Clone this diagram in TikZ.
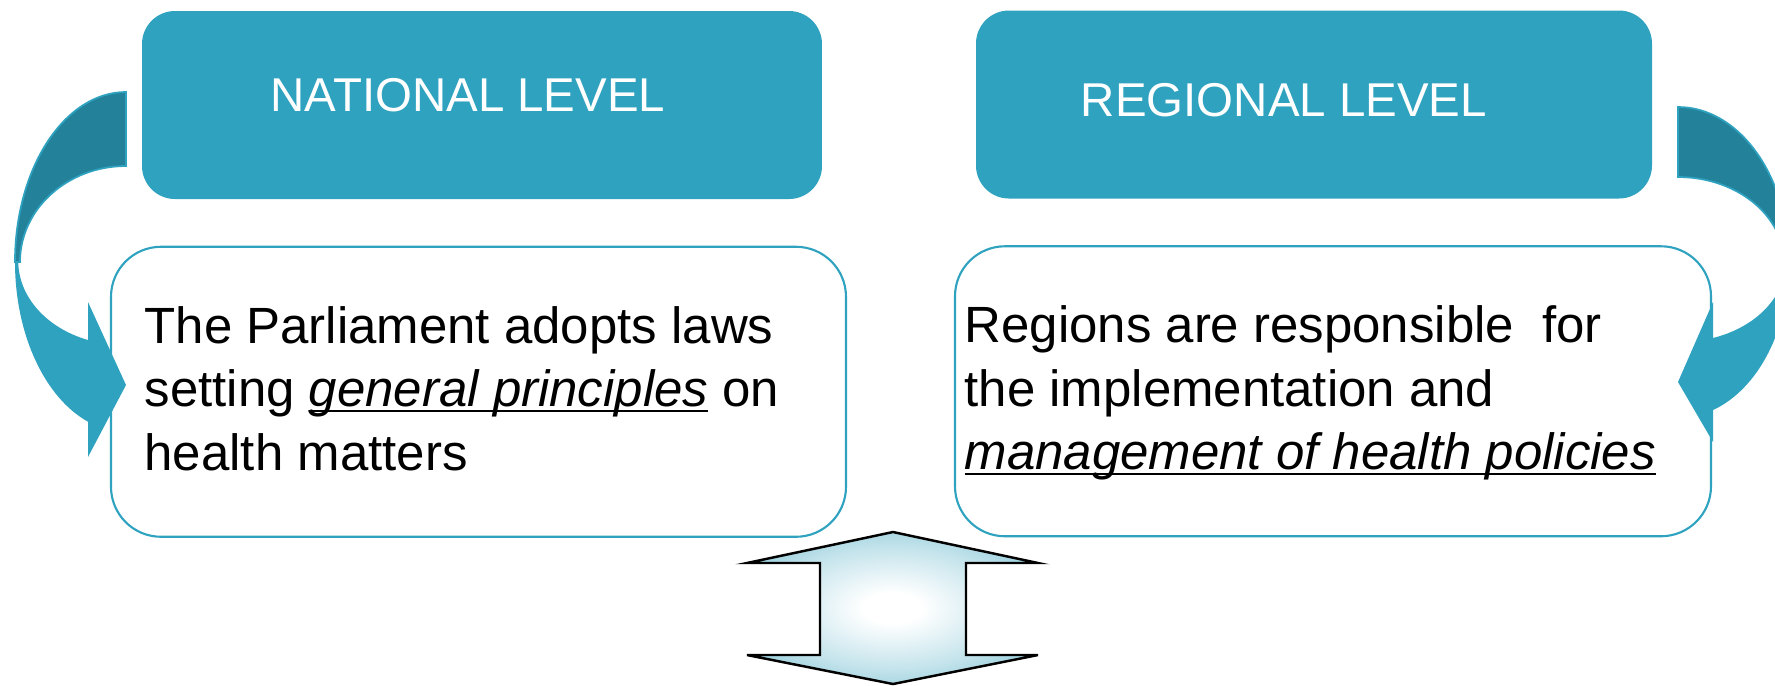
\documentclass[tikz,border=0pt]{standalone}
\usepackage{fontspec}
\setmainfont{Liberation Sans}
\usetikzlibrary{positioning}
\definecolor{headteal}{HTML}{2EA2BF}
\definecolor{darkteal}{HTML}{23819A}
\definecolor{glowteal}{HTML}{3AA3BE}
\pgfdeclareradialshading{arrowglow}{\pgfpointorigin}{color(0bp)=(white); color(5bp)=(white); color(20bp)=(glowteal!30!white); color(31bp)=(glowteal!58!white); color(40bp)=(glowteal!82!white); color(46bp)=(glowteal); color(72bp)=(glowteal)}
\newcommand\undertxt[1]{\setbox0\hbox{\itshape #1}\rlap{\rule[-1.6pt]{\wd0}{0.6pt}}\box0\relax}

\begin{document}
\begin{tikzpicture}[x=0.1mm, y=0.1mm]
\tikzstyle{every node}+=[inner sep=0pt]
\tikzstyle{headbox}=[fill=headteal, rounded corners=3.3mm, minimum height=18.8mm]
\tikzstyle{headtitle}=[text=white, font=\fontsize{13.5}{16}\selectfont]
\tikzstyle{textbox}=[draw=headteal, line width=0.6pt, rounded corners=5mm, minimum height=29mm]
\tikzstyle{bodytext}=[anchor=north west, align=left, font=\fontsize{14.5}{18.07}\selectfont]
\tikzstyle{backband}=[fill=darkteal, draw=headteal, line width=0.5pt]
\tikzstyle{frontband}=[fill=headteal]
\tikzstyle{dblarrow}=[shade, shading=arrowglow, draw=black, line width=0.7pt]
\useasboundingbox (0,0) rectangle (1775,-685);
\clip (0,0) rectangle (1775,-685);
\draw [backband] (126,-92) arc [start angle=90, end angle=180, x radius=111, y radius=170] -- (20,-262) arc [start angle=180, end angle=90, x radius=106, y radius=96] -- cycle;
\fill [frontband] (15,-262) arc [start angle=180, end angle=250, x radius=111, y radius=170] -- (88,-457) -- (126,-385) -- (88,-302) -- (88,-340) arc [start angle=250, end angle=180, x radius=106, y radius=84] -- cycle;
\draw [backband] (1678,-107) arc [start angle=90, end angle=0, x radius=111, y radius=155.5] -- (1784,-262.5) arc [start angle=0, end angle=90, x radius=106, y radius=85.5] -- cycle;
\fill [frontband] (1789,-262.5) arc [start angle=0, end angle=-71.6, x radius=111, y radius=155.5] -- (1713,-442) -- (1678,-382) -- (1713,-302) -- (1713,-338) arc [start angle=-71.6, end angle=0, x radius=106, y radius=80] -- cycle;
\node [headbox, minimum width=68mm] (natHead) at (482,-105) {};
\node [headbox, minimum width=67.6mm] (regHead) at (1314,-104.5) {};
\node [headtitle] (natTitle) at ([xshift=-1.4mm, yshift=1mm]natHead.center) {NATIONAL LEVEL};
\node [headtitle] (regTitle) at ([xshift=-3mm, yshift=0.45mm]regHead.center) {REGIONAL LEVEL};
\node [textbox, minimum width=73.5mm, below=4.6mm of natHead, xshift=-0.35mm] (natBox) {};
\node [textbox, minimum width=75.6mm, below=4.6mm of regHead, xshift=1.9mm] (regBox) {};
\node [bodytext] (natText) at ([xshift=3.4mm, yshift=-6mm]natBox.north west) {The Parliament adopts laws\\ setting \undertxt{general principles} on\\ health matters};
\node [bodytext] (regText) at ([xshift=1mm, yshift=-6mm]regBox.north west) {Regions are responsible~ for\\ the implementation and\\ \undertxt{management of health policies}};
\draw [dblarrow] (893,-532) -- (1038,-563) -- (966,-563) -- (966,-655) -- (1038,-655) -- (893,-684) -- (747,-655) -- (820,-655) -- (820,-563) -- (747,-563) -- cycle;
\end{tikzpicture}
\end{document}
